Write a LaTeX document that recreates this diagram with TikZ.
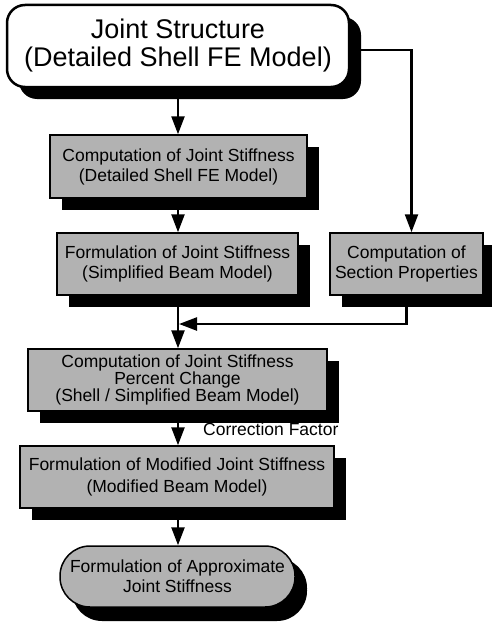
\documentclass[tikz,border=0pt]{standalone}
\usepackage{fontspec}
\setmainfont{Liberation Sans}
\usetikzlibrary{arrows.meta,shadows}
\begin{document}
\begin{tikzpicture}[x=1pt,y=-1pt,
  box/.style={draw=black, line width=1.5pt, fill=black!30, inner sep=0pt, align=center,
    font=\fontsize{17.5}{20}\selectfont,
    drop shadow={shadow xshift=12pt, shadow yshift=-12pt, fill=black, opacity=1}},
  conn/.style={line width=2.4pt, -{Triangle[length=18pt,width=13pt]}},
  lbl/.style={inner sep=0pt, font=\fontsize{17.5}{20}\selectfont}]
\useasboundingbox (0,0) rectangle (492,626);
\coordinate (col) at (178,0);

\node[box, rounded corners=18pt, fill=white, line width=2.5pt, minimum width=342pt, minimum height=82pt,
  font=\fontsize{27}{28}\selectfont] (top) at (178,46) {Joint Structure\\(Detailed Shell FE Model)};

\node[box, minimum width=257pt, minimum height=63pt] (b2) at (178.5,166.5)
  {Computation of Joint Stiffness\\(Detailed Shell FE Model)};
\node[box, minimum width=241pt, minimum height=62pt] (b3) at (177.5,264)
  {Formulation of Joint Stiffness\\(Simplified Beam Model)};
\node[box, minimum width=153pt, minimum height=62pt] (b4) at (406.5,264)
  {Computation of\\Section Properties};
\node[box, minimum width=299pt, minimum height=62pt, font=\fontsize{17.5}{17}\selectfont] (b5) at (177.5,380)
  {Computation of Joint Stiffness\\Percent Change\\(Shell / Simplified Beam Model)};
\node[box, minimum width=314pt, minimum height=62pt, font=\fontsize{17.5}{22}\selectfont] (b6) at (177,477)
  {Formulation of Modified Joint Stiffness\\(Modified Beam Model)};
\node[box, rounded corners=30pt, minimum width=235pt, minimum height=61pt,
  drop shadow={shadow xshift=12pt, shadow yshift=-14pt, fill=black, opacity=1}] (ov) at (177.5,576.5)
  {Formulation of Approximate\\Joint Stiffness};

\coordinate (join) at (179,324);

\draw[conn] (top.south -| col) -- (b2.north -| col);
\draw[conn] (b2.south -| col) -- (b3.north -| col);
\draw[conn] (b3.south -| col) -- (b5.north -| col);
\draw[conn] ([yshift=-4pt]top.east) -| ([xshift=5pt]b4.north);
\draw[conn] (b4.south) |- (join);
\draw[conn] (b5.south -| col) -- (b6.north -| col);
\draw[conn] (b6.south -| col) -- (ov.north -| col);

\node[lbl, anchor=west] (cf) at (203,429) {Correction Factor};
\end{tikzpicture}
\end{document}
